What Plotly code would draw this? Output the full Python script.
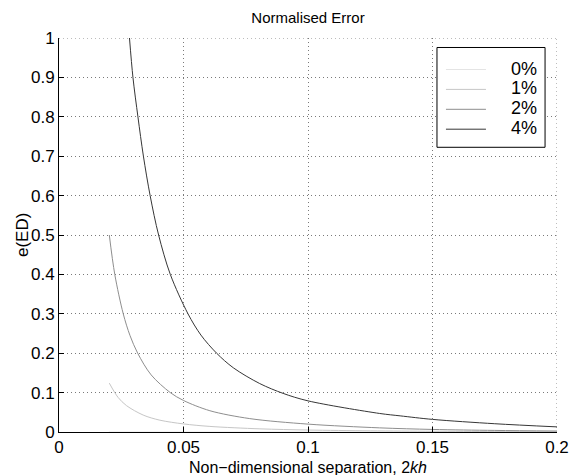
import plotly.graph_objects as go

# Series
x_0pct = [0.02, 0.2]
y_0pct = [0.0, 0.0]

x_1pct = [0.0202, 0.0237, 0.0271, 0.0338, 0.0405, 0.05, 0.0606, 0.0807, 0.10, 0.125, 0.15, 0.175, 0.20]
y_1pct = [0.124, 0.088, 0.067, 0.043, 0.030, 0.0205, 0.0142, 0.0080, 0.0050, 0.0030, 0.0019, 0.0011, 0.0005]

x_2pct = [0.0202, 0.0224, 0.0258, 0.0285, 0.0316, 0.0370, 0.0447, 0.05, 0.0606, 0.0766, 0.10, 0.1288, 0.15, 0.175, 0.20]
y_2pct = [0.50, 0.40, 0.30, 0.245, 0.20, 0.145, 0.10, 0.080, 0.054, 0.034, 0.020, 0.0105, 0.0065, 0.0040, 0.0025]

x_4pct = [0.0283, 0.0297, 0.0317, 0.0339, 0.0366, 0.040, 0.0447, 0.0518, 0.057, 0.0633, 0.070, 0.0806, 0.090, 0.10, 0.1288, 0.137, 0.15, 0.175, 0.20]
y_4pct = [1.0, 0.9, 0.8, 0.7, 0.6, 0.5, 0.4, 0.3, 0.246, 0.2, 0.163, 0.123, 0.098, 0.079, 0.047, 0.041, 0.032, 0.021, 0.013]

series_names = ["0%", "1%", "2%", "4%"]
series_colors = ["#e4e4e4", "#c6c6c6", "#8e8e8e", "#363636"]

x_ticks = [0, 0.05, 0.1, 0.15, 0.2]
x_tick_labels = ["0", "0.05", "0.1", "0.15", "0.2"]
y_ticks = [0, 0.1, 0.2, 0.3, 0.4, 0.5, 0.6, 0.7, 0.8, 0.9, 1.0]
y_tick_labels = ["0", "0.1", "0.2", "0.3", "0.4", "0.5", "0.6", "0.7", "0.8", "0.9", "1"]

FONT = "Liberation Sans, Arial, Helvetica, sans-serif"
GRID = "#7a7a7a"
DOTS = "1px,3px"
LABEL_SIZE = 17

fig = go.Figure()
for xs, ys, name, col in zip([x_0pct, x_1pct, x_2pct, x_4pct],
                             [y_0pct, y_1pct, y_2pct, y_4pct],
                             series_names, series_colors):
    fig.add_trace(go.Scatter(
        x=xs, y=ys, mode="lines",
        name='<span style="font-size:18px">\u00a0\u00a0\u00a0\u00a0' + name + '</span>',
        line=dict(color=col, width=1, shape="spline", smoothing=0.9)))

# dotted grid lines along the top and right edges (box off, grid on)
fig.add_shape(type="line", xref="paper", yref="y", x0=0, x1=1, y0=1, y1=1,
              line=dict(color=GRID, width=1, dash=DOTS), layer="below")
fig.add_shape(type="line", xref="x", yref="paper", x0=0.2, x1=0.2, y0=0, y1=1,
              line=dict(color=GRID, width=1, dash=DOTS), layer="below")
# legend frame
fig.add_shape(type="rect", xref="paper", yref="paper",
              x0=0.759, x1=0.976, y0=0.7226, y1=0.9759,
              line=dict(color="black", width=1), fillcolor="white", layer="above")

# axis titles
fig.add_annotation(text="Non\u2212dimensional separation, 2<i>kh</i>",
                   xref="paper", yref="paper", x=0.5, y=(432 - 467) / 394,
                   xanchor="center", yanchor="middle", showarrow=False, borderpad=0,
                   font=dict(family=FONT, size=16, color="black"))
fig.add_annotation(text="e(ED)", textangle=-90,
                   xref="paper", yref="paper", x=(22 - 59) / 498, y=0.5,
                   xanchor="center", yanchor="middle", showarrow=False, borderpad=0,
                   font=dict(family=FONT, size=LABEL_SIZE, color="black"))

fig.update_layout(
    width=571, height=475,
    margin=dict(l=59, r=14, t=38, b=43),
    paper_bgcolor="white", plot_bgcolor="white",
    font=dict(family=FONT, size=LABEL_SIZE, color="black"),
    title=dict(text="Normalised Error", x=308 / 571, xref="container", xanchor="center",
               y=1 - 18 / 475, yref="container", yanchor="middle",
               font=dict(family=FONT, size=15, color="black")),
    legend=dict(x=0.767, y=0.958, xanchor="left", yanchor="top",
                bgcolor="rgba(0,0,0,0)", borderwidth=0,
                font=dict(family=FONT, size=13, color="black"),
                itemwidth=40, traceorder="normal", tracegroupgap=0),
    showlegend=True,
)

fig.update_xaxes(
    range=[0, 0.2], tickmode="array", tickvals=x_ticks, ticktext=x_tick_labels,
    ticks="inside", ticklen=5, tickcolor="black", tickwidth=1,
    showline=True, linecolor="black", linewidth=1, mirror=False,
    showgrid=True, gridcolor=GRID, griddash=DOTS, gridwidth=1,
    zeroline=False, tickfont=dict(family=FONT, size=LABEL_SIZE),
    ticklabelstandoff=0, automargin=False,
)
fig.update_yaxes(
    range=[0, 1], tickmode="array", tickvals=y_ticks, ticktext=y_tick_labels,
    ticks="inside", ticklen=5, tickcolor="black", tickwidth=1,
    showline=True, linecolor="black", linewidth=1, mirror=False,
    showgrid=True, gridcolor=GRID, griddash=DOTS, gridwidth=1,
    zeroline=False, tickfont=dict(family=FONT, size=LABEL_SIZE),
    automargin=False,
)

fig.write_html("out.html", config={"displayModeBar": False},
               post_script="document.body.style.margin='0px';")
